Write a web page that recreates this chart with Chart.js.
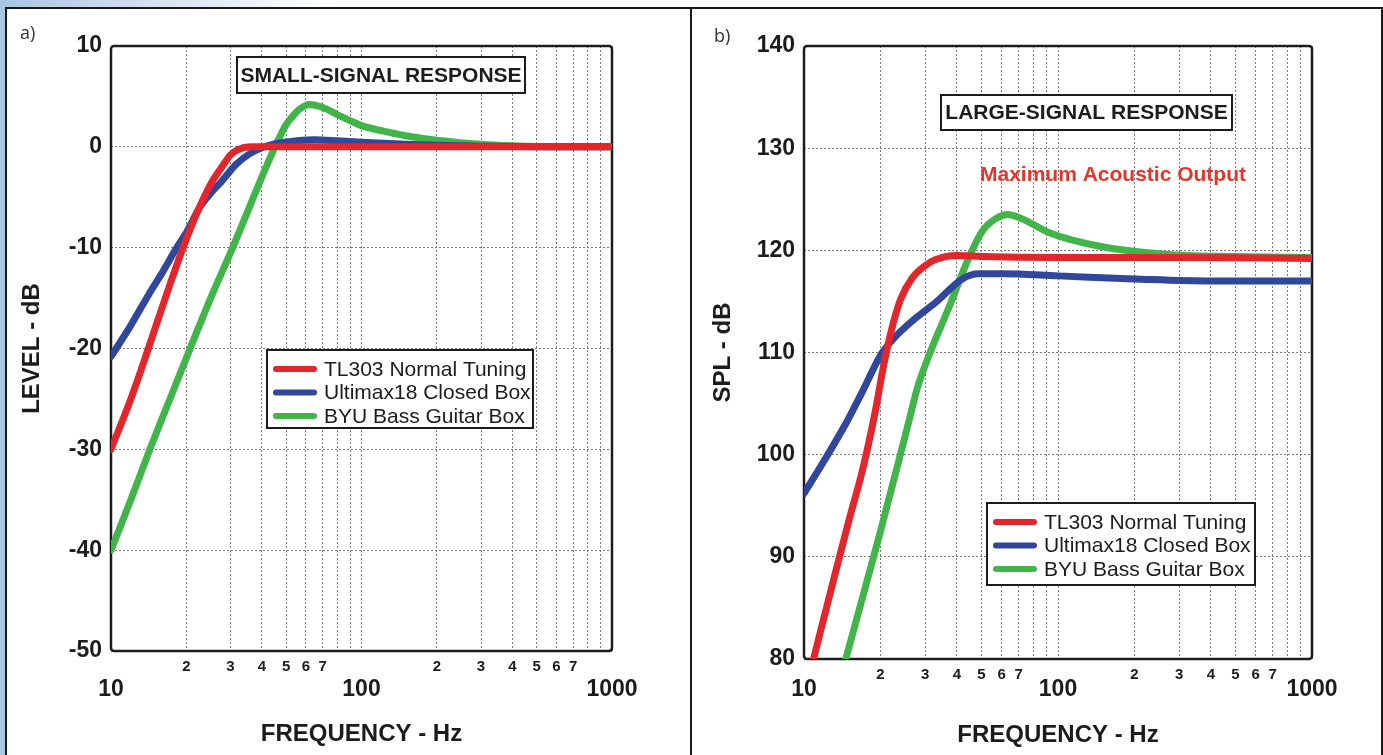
<!DOCTYPE html>
<html>
<head>
<meta charset="utf-8">
<script src="https://cdn.jsdelivr.net/npm/chart.js@4.4.1/dist/chart.umd.min.js"></script>
<style>
  html, body { margin: 0; padding: 0; background: #fff; width: 1383px; height: 755px; overflow: hidden; position: relative; }
  #edgeTop { position: absolute; left: 0; top: 0; width: 1383px; height: 7px; background: linear-gradient(to right, #a9c5e2 0, #cddcee 120px, #fff 330px); }
  #edgeLeft { position: absolute; left: 0; top: 0; width: 5px; height: 755px; background: #a9c5e2; }
  #frame { position: absolute; left: 5px; top: 7px; width: 1378px; height: 780px; border: 2px solid #1a1a1a; box-sizing: border-box; }
  #divider { position: absolute; left: 690px; top: 7px; width: 2px; height: 760px; background: #1a1a1a; }
  .panel { position: absolute; top: 8px; height: 747px; }
  #panelA { left: 8px; width: 682px; }
  #panelB { left: 693px; width: 690px; }
  .tag { position: absolute; font: 18px "Open Sans", "DejaVu Sans", sans-serif; color: #333; }
</style>
</head>
<body>
<div id="edgeTop"></div>
<div id="edgeLeft"></div>
<div id="frame"></div>
<div id="divider"></div>
<div class="panel" id="panelA"><canvas id="chartA"></canvas></div>
<div class="panel" id="panelB"><canvas id="chartB"></canvas></div>
<div class="tag" style="left:20px;top:20px">a)</div>
<div class="tag" style="left:714px;top:23px">b)</div>

<script>
// ---- data ----
const seriesNames = ["TL303 Normal Tuning", "Ultimax18 Closed Box", "BYU Bass Guitar Box"];
const seriesColors = ["#e3262b", "#30479c", "#41b549"];

// a) small-signal response, level in dB
const ssRedFreq = [10, 12, 14.1, 17, 19.4, 22, 25, 27.7, 30, 32, 36, 45, 60, 100, 200, 500, 1000];
const ssRedLevel = [-30, -25, -20, -14, -10, -6.6, -3.7, -2.0, -0.8, -0.3, 0, 0, 0, 0, 0, 0, 0];
const ssBlueFreq = [10, 12, 14.5, 16, 18.3, 20, 22.6, 25, 27.7, 31.4, 35.7, 40, 45, 55, 65, 80, 100, 150, 200, 300, 500, 1000];
const ssBlueLevel = [-20.8, -17.7, -14.2, -12.5, -10, -8.5, -6, -4.6, -3.4, -1.8, -0.7, -0.1, 0.3, 0.6, 0.7, 0.6, 0.45, 0.25, 0.15, 0.05, 0, 0];
const ssGreenFreq = [10, 12, 14.3, 17, 20.7, 25, 30.6, 35, 40, 45.2, 50, 53, 57, 62, 70, 80, 90, 100, 120, 150, 200, 300, 400, 600, 1000];
const ssGreenLevel = [-40, -35, -30, -25.3, -20, -15, -10, -6.5, -3, 0, 2.2, 3.0, 3.8, 4.2, 3.9, 3.2, 2.6, 2.1, 1.6, 1.1, 0.65, 0.25, 0.1, 0, 0];

// b) large-signal response, SPL in dB
const lsRedFreq = [10.9, 13, 15, 17, 19, 20.5, 22, 24, 26.7, 30, 33, 40, 50, 100, 300, 1000];
const lsRedSpl = [80, 87.5, 93.5, 98.5, 104, 108.5, 112, 115.2, 117.3, 118.5, 119.1, 119.5, 119.4, 119.3, 119.3, 119.2];
const lsBlueFreq = [10, 12, 14.8, 17, 20.1, 23, 26.7, 33, 42, 48.7, 60, 100, 200, 400, 1000];
const lsBlueSpl = [96.2, 99.4, 103.3, 106.2, 109.8, 111.6, 113.1, 114.9, 117.2, 117.7, 117.7, 117.5, 117.2, 117, 117];
const lsGreenFreq = [14.6, 17, 20, 23, 25.9, 28, 31.6, 37.2, 44.6, 50.4, 56.9, 63.3, 72, 93, 146, 268, 489, 1000];
const lsGreenSpl = [80, 86, 92.5, 98.3, 103.3, 106.6, 110.2, 114.4, 119.3, 121.9, 123.1, 123.5, 123.1, 121.7, 120.4, 119.6, 119.4, 119.3];

// axis ticks
const gridFreqs = [10, 20, 30, 40, 50, 60, 70, 80, 90, 100, 200, 300, 400, 500, 600, 700, 800, 900, 1000];
const minorLabels = { 20: "2", 30: "3", 40: "4", 50: "5", 60: "6", 70: "7", 200: "2", 300: "3", 400: "4", 500: "5", 600: "6", 700: "7" };
const decadeFreqs = [10, 100, 1000];

Chart.defaults.font.family = '"Liberation Sans", Arial, Helvetica, sans-serif';
Chart.defaults.color = "#1c1c1c";
const ink = "#1c1c1c";
const gridColor = "#7a7a7a";

const pts = (f, v) => f.map((x, i) => ({ x: x, y: v[i] }));

// frame, title box, note and legend drawn inside the plot
const panelDecor = {
  id: "panelDecor",
  beforeDatasetsDraw(chart, args, opts) {
    const { ctx, chartArea: a } = chart;
    ctx.save();
    ctx.strokeStyle = ink;
    ctx.lineWidth = 2.5;
    ctx.beginPath();
    ctx.roundRect(a.left, a.top, a.width, a.height, 3);
    ctx.stroke();

    const t = opts.titleBox;
    ctx.fillStyle = "#fff";
    ctx.fillRect(t.x, t.y, t.w, t.h);
    ctx.lineWidth = 2;
    ctx.strokeRect(t.x, t.y, t.w, t.h);
    ctx.fillStyle = ink;
    ctx.font = 'bold 21px "Liberation Sans", Arial, sans-serif';
    ctx.textAlign = "center";
    ctx.textBaseline = "middle";
    ctx.fillText(opts.title, t.x + t.w / 2, t.y + t.h / 2 + 1);

    if (opts.note) {
      ctx.fillStyle = opts.note.color;
      ctx.fillText(opts.note.text, opts.note.x, opts.note.y);
    }

    const l = opts.legendBox;
    ctx.fillStyle = "#fff";
    ctx.fillRect(l.x, l.y, l.w, l.h);
    ctx.strokeStyle = ink;
    ctx.lineWidth = 2;
    ctx.strokeRect(l.x, l.y, l.w, l.h);
    ctx.font = '21px "Liberation Sans", Arial, sans-serif';
    ctx.textAlign = "left";
    chart.data.datasets.forEach((ds, i) => {
      const y = l.y + 19 + i * 23.5;
      ctx.strokeStyle = ds.borderColor;
      ctx.lineWidth = 6;
      ctx.lineCap = "round";
      ctx.beginPath();
      ctx.moveTo(l.x + 9, y);
      ctx.lineTo(l.x + 47, y);
      ctx.stroke();
      ctx.fillStyle = ink;
      ctx.fillText(ds.label, l.x + 57, y + 1);
    });
    ctx.restore();
  }
};

function makeChart(id, cfg) {
  const datasets = cfg.series.map((s, i) => ({
    label: seriesNames[i],
    data: s,
    borderColor: seriesColors[i],
    backgroundColor: seriesColors[i],
    borderWidth: 7,
    pointRadius: 0,
    cubicInterpolationMode: "monotone",
    borderCapStyle: "round",
    borderJoinStyle: "round",
    fill: false
  }));

  return new Chart(document.getElementById(id), {
    type: "line",
    data: { datasets: datasets },
    plugins: [panelDecor],
    options: {
      responsive: true,
      maintainAspectRatio: false,
      animation: false,
      layout: { padding: { left: 0, top: 38, right: cfg.padRight, bottom: 0 } },
      plugins: {
        legend: { display: false },
        tooltip: { enabled: false },
        panelDecor: cfg.decor
      },
      scales: {
        // minor decade labels (2..7); mirrored so they are not clipped to the thin axis box
        x: {
          type: "logarithmic",
          position: "bottom",
          weight: 0,
          min: 10,
          max: 1000,
          afterBuildTicks: (s) => { s.ticks = gridFreqs.map((v) => ({ value: v })); },
          afterFit: (s) => { s.height = cfg.minorHeight; },
          grid: { color: gridColor, lineWidth: 1, drawTicks: false },
          border: { display: false, dash: [2, 2] },
          ticks: {
            autoSkip: false,
            maxRotation: 0,
            mirror: true,
            padding: -25,
            font: { size: 15, weight: "bold" },
            callback: (v) => minorLabels[v] || ""
          }
        },
        x2: {
          type: "logarithmic",
          position: "bottom",
          weight: 1,
          min: 10,
          max: 1000,
          afterBuildTicks: (s) => { s.ticks = decadeFreqs.map((v) => ({ value: v })); },
          afterFit: (s) => { s.height = cfg.majorHeight; },
          grid: { display: false, drawTicks: false },
          border: { display: false },
          ticks: {
            autoSkip: false,
            maxRotation: 0,
            padding: cfg.majorPad,
            font: { size: 23, weight: "bold" },
            callback: (v) => String(v)
          },
          title: {
            display: true,
            text: "FREQUENCY - Hz",
            font: { size: 24, weight: "bold" },
            padding: { top: 0, bottom: cfg.xTitlePad }
          }
        },
        y: {
          min: cfg.yMin,
          max: cfg.yMax,
          afterFit: (s) => { s.width = cfg.yWidth; },
          grid: { color: gridColor, lineWidth: 1, drawTicks: false },
          border: { display: false, dash: [2, 2] },
          ticks: {
            stepSize: 10,
            padding: 9,
            font: { size: 23, weight: "bold" }
          },
          title: {
            display: true,
            text: cfg.yTitle,
            font: { size: 24, weight: "bold" },
            padding: { top: cfg.yTitlePad, bottom: 0 }
          }
        }
      }
    }
  });
}

makeChart("chartA", {
  series: [pts(ssRedFreq, ssRedLevel), pts(ssBlueFreq, ssBlueLevel), pts(ssGreenFreq, ssGreenLevel)],
  yMin: -50, yMax: 10, yTitle: "LEVEL - dB",
  yWidth: 103, padRight: 78, minorHeight: 12, majorHeight: 92, majorPad: 13, xTitlePad: 6.6, yTitlePad: 10,
  decor: {
    title: "SMALL-SIGNAL RESPONSE",
    titleBox: { x: 229, y: 49, w: 288, h: 36 },
    legendBox: { x: 259, y: 342, w: 266, h: 78 }
  }
});

makeChart("chartB", {
  series: [pts(lsRedFreq, lsRedSpl), pts(lsBlueFreq, lsBlueSpl), pts(lsGreenFreq, lsGreenSpl)],
  yMin: 80, yMax: 140, yTitle: "SPL - dB",
  yWidth: 111, padRight: 71, minorHeight: 6, majorHeight: 90, majorPad: 11, xTitlePad: 5.6, yTitlePad: 15.5,
  decor: {
    title: "LARGE-SIGNAL RESPONSE",
    titleBox: { x: 248, y: 87, w: 291, h: 35 },
    note: { text: "Maximum Acoustic Output", x: 420, y: 167, color: "#e3352b" },
    legendBox: { x: 294, y: 495, w: 268, h: 82 }
  }
});
</script>
</body>
</html>
